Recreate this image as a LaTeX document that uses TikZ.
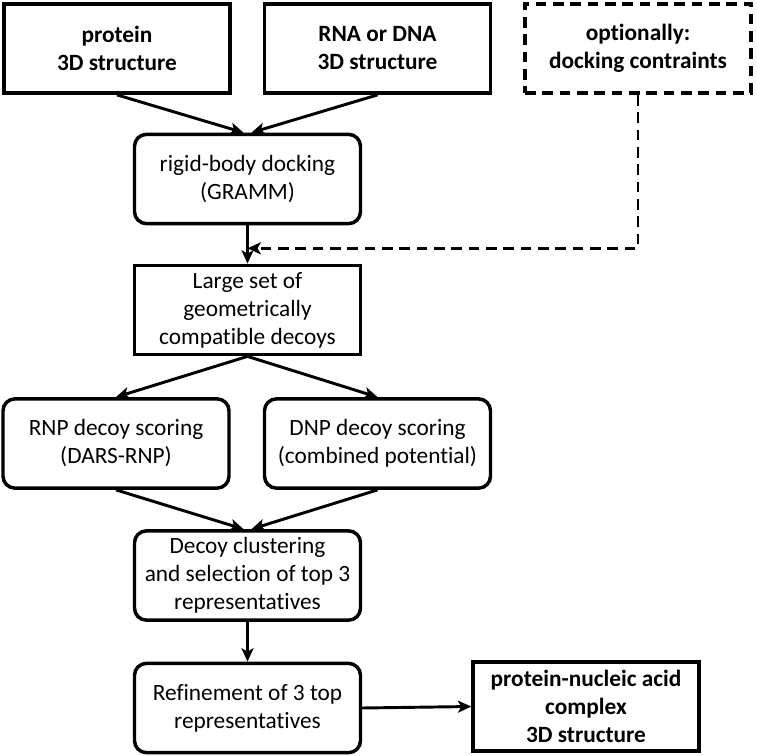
\documentclass[tikz,border=0pt]{standalone}
\usepackage{fontspec}
\setmainfont{Carlito}[Ligatures=CommonOff]
\usetikzlibrary{arrows.meta,calc}
\begin{document}
\begin{tikzpicture}[x=0.75pt,y=-0.75pt,
  base/.style={draw,line width=2.6pt,minimum width=169.5pt,minimum height=67pt,align=center,inner sep=2pt,font=\fontsize{17.5}{21}\selectfont},
  sqbox/.style={base},
  rbox/.style={base,rounded corners=9pt},
  bbox/.style={base,font=\fontsize{17.5}{21}\selectfont\bfseries},
  dbox/.style={bbox,dash pattern=on 8pt off 5pt},
  arr/.style={line width=2.2pt,-{Stealth[length=10pt,width=9pt,inset=2.5pt]}},
  darr/.style={arr,dash pattern=on 8pt off 5pt}]
\useasboundingbox (0,0) rectangle (756,756);
\node[bbox] (p) at (117,48.5) {protein\\3D structure};
\node[bbox] (r) at (377.5,48.5) {RNA or DNA\\3D structure};
\node[dbox] (o) at (638,48.5) {optionally:\\docking contraints};
\node[rbox] (rigid) at (247.5,179) {rigid-body docking\\(GRAMM)};
\node[sqbox] (large) at (247.5,310) {Large set of\\geometrically\\compatible decoys};
\node[rbox] (rnp) at (116,443.5) {RNP decoy scoring\\(DARS-RNP)};
\node[rbox] (dnp) at (377.5,443.5) {DNP decoy scoring\\(combined potential)};
\node[rbox] (clus) at (247.5,575.5) {Decoy clustering\\and selection of top 3\\representatives};
\node[rbox] (ref) at (247.5,708) {Refinement of 3 top\\representatives};
\node[bbox] (fin) at (586,706.5) {protein-nucleic acid\\complex\\3D structure};
\draw[arr] (p.south) -- ($(rigid.north)+(-4,0)$);
\draw[arr] (r.south) -- ($(rigid.north)+(4,0)$);
\draw[arr] (rigid.south) -- (large.north);
\coordinate (j) at ($(rigid.south)!0.6!(large.north)$);
\draw[darr] (o.south) |- (j);
\draw[arr] (large.south) -- (rnp.north);
\draw[arr] (large.south) -- (dnp.north);
\draw[arr] (rnp.south) -- ($(clus.north)+(-4,0)$);
\draw[arr] (dnp.south) -- ($(clus.north)+(4,0)$);
\draw[arr] (clus.south) -- (ref.north);
\draw[arr] (ref.east) -- (fin.west);
\end{tikzpicture}
\end{document}
